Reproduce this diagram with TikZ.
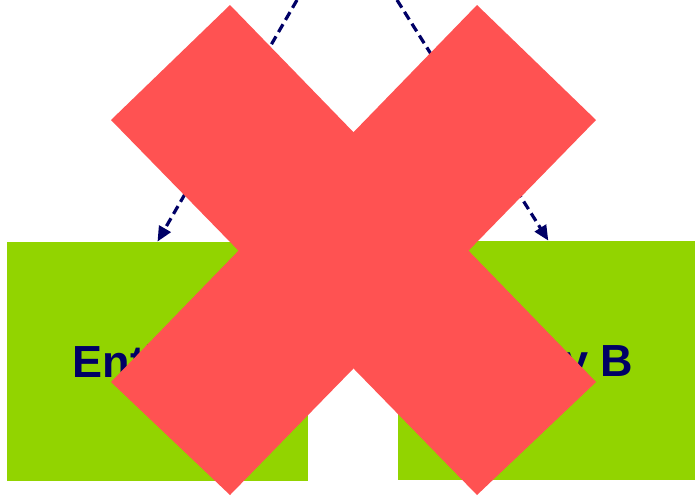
\documentclass[tikz,border=0pt]{standalone}
\usepackage{fontspec}
\setmainfont{Liberation Sans}
\usepackage{tikz}
\usetikzlibrary{arrows.meta,positioning}
\definecolor{entgreen}{HTML}{92D400}
\definecolor{entnavy}{HTML}{000066}
\definecolor{crossred}{HTML}{FF5252}
\tikzset{
  entity/.style={fill=entgreen,inner sep=0pt,minimum width=150.5pt,minimum height=119.5pt,align=center,text=entnavy,text height=16.1pt,text depth=0pt,font=\fontsize{22.5}{27}\selectfont\bfseries},
  arrow/.style={-{Triangle[length=7.5pt,width=6.5pt]},line width=1.6pt,dash pattern=on 4.5pt off 2.5pt,entnavy},
  crossarm/.style={fill=crossred}
}

\begin{document}
\begin{tikzpicture}[x=0.5pt,y=-0.5pt]
  \useasboundingbox (0,0) rectangle (695,495);
  \node[entity] (eA) at (157.5,361.5) {Entity A};
  \node[entity,right=44.5pt of eA,yshift=0.5pt] (eB) {Entity B};

  \coordinate (topA) at (297,0);
  \coordinate (topB) at (397,0);
  \draw[arrow] (topA) -- (eA.north);
  \draw[arrow] (topB) -- (eB.north);

  % Cross over the picture
  \fill[crossarm] (111,120) -- (230,5) -- (596,382) -- (477,495) -- cycle;
  \fill[crossarm] (477,5) -- (596,120) -- (230,495) -- (111,382) -- cycle;
\end{tikzpicture}
\end{document}
